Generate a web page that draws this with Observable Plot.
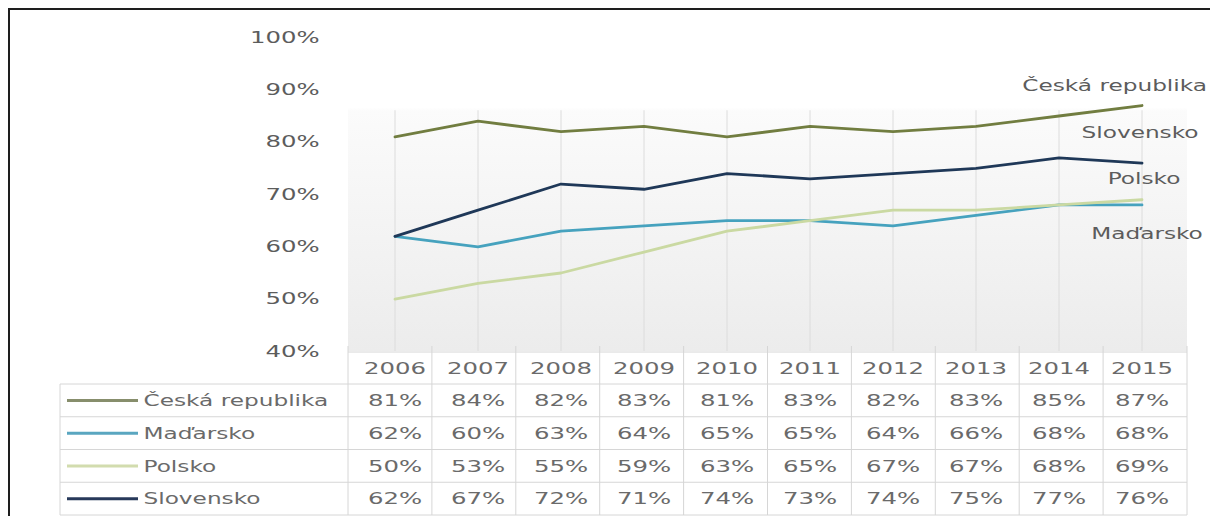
<!DOCTYPE html>
<html>
<head>
<meta charset="utf-8">
<script src="https://cdn.jsdelivr.net/npm/d3@7"></script>
<script src="https://cdn.jsdelivr.net/npm/@observablehq/plot@0.6"></script>
<style>
  body { margin: 0; background: #fff; }
  #wrap { position: relative; width: 1210px; height: 516px; overflow: hidden; background: #fff; }
  #frame { position: absolute; left: 8px; top: 8px; width: 1220px; height: 530px;
           border-top: 2px solid #1e1e1e; border-left: 2px solid #1e1e1e; pointer-events: none; }
</style>
</head>
<body>
<div id="wrap"><div id="frame"></div></div>
<script>
// ---- data ----
const years = [2006, 2007, 2008, 2009, 2010, 2011, 2012, 2013, 2014, 2015];
const seriesNames = ["Česká republika", "Maďarsko", "Polsko", "Slovensko"];
const ceskaValues     = [81, 84, 82, 83, 81, 83, 82, 83, 85, 87];
const madarskoValues  = [62, 60, 63, 64, 65, 65, 64, 66, 68, 68];
const polskoValues    = [50, 53, 55, 59, 63, 65, 67, 67, 68, 69];
const slovenskoValues = [62, 67, 72, 71, 74, 73, 74, 75, 77, 76];
const yTicks = [40, 50, 60, 70, 80, 90, 100];
const seriesColors = ["#717d40", "#46a2be", "#cad9a2", "#1f3858"];
const swatchColors = ["#878e6c", "#5aa6c0", "#d2dcae", "#27395a"];

// ---- derived table ----
const valuesBySeries = [ceskaValues, madarskoValues, polskoValues, slovenskoValues];
const rows = seriesNames.flatMap((s, i) =>
  years.map((yr, j) => ({series: s, year: yr, value: valuesBySeries[i][j]})));
const lastPoints = seriesNames.map((s, i) => ({series: s, year: years[years.length - 1], value: valuesBySeries[i][years.length - 1]}));

// layout constants (style)
const headerH = 32;
const rowH = 32.75;
const tableLeftOffset = 288;   // table starts this far left of the plot frame
const textColor = "#5c5c5c";
const tableTextColor = "#6a6a6a";

function plotBackground(index, scales, values, dims) {
  const left = dims.marginLeft, right = dims.width - dims.marginRight;
  const top = dims.marginTop, bottom = dims.height - dims.marginBottom;
  const g = d3.create("svg:g");
  const grad = g.append("defs").append("linearGradient")
    .attr("id", "bgGrad").attr("x1", 0).attr("x2", 0).attr("y1", 0).attr("y2", 1);
  [[0, "#ffffff"], [0.225, "#ffffff"], [0.235, "#fbfbfb"], [1, "#ececec"]]
    .forEach(([o, c]) => grad.append("stop").attr("offset", o).attr("stop-color", c));
  g.append("rect").attr("x", left).attr("y", top).attr("width", right - left)
    .attr("height", bottom - top).attr("fill", "url(#bgGrad)");
  return g.node();
}

function tableGrid(index, scales, values, dims) {
  const left = dims.marginLeft, right = dims.width - dims.marginRight;
  const top = dims.height - dims.marginBottom + 1;
  const n = years.length, bw = (right - left) / n;
  const hb = top + headerH, bottom = hb + rowH * seriesNames.length;
  const tl = left - tableLeftOffset;
  const g = d3.create("svg:g").attr("fill", "none");
  const grid = g.append("g").attr("stroke", "#d6d6d6").attr("stroke-width", 1);
  grid.append("line").attr("x1", left).attr("x2", right).attr("y1", top).attr("y2", top);
  for (let r = 0; r <= seriesNames.length; r++) {
    const yy = hb + r * rowH;
    grid.append("line").attr("x1", tl).attr("x2", right).attr("y1", yy).attr("y2", yy);
  }
  for (let i = 0; i <= n; i++) {
    const xx = left + i * bw;
    grid.append("line").attr("x1", xx).attr("x2", xx).attr("y1", top - 6).attr("y2", bottom);
  }
  grid.append("line").attr("x1", tl).attr("x2", tl).attr("y1", hb).attr("y2", bottom);
  seriesNames.forEach((s, i) => {
    const yy = hb + rowH * (i + 0.5);
    g.append("line").attr("x1", tl + 7).attr("x2", tl + 78).attr("y1", yy).attr("y2", yy)
      .attr("stroke", swatchColors[i]).attr("stroke-width", 3);
  });
  return g.node();
}

const labelOffsets = {
  "Česká republika": {dx: 65, dy: -20, anchor: "end"},
  "Slovensko": {dx: -2, dy: -30, anchor: "middle"},
  "Polsko": {dx: 2, dy: -21, anchor: "middle"},
  "Maďarsko": {dx: 5, dy: 29, anchor: "middle"}
};

const marks = [
  plotBackground,
  Plot.ruleX(years, {x: d => d, y1: 86, y2: 40, stroke: "#dcdcdc", strokeWidth: 1}),
  tableGrid,
  Plot.line(rows, {x: "year", y: "value", z: "series", stroke: "series", strokeWidth: 2.8, curve: "linear"}),
  // y tick labels
  Plot.text(yTicks, {y: d => d, text: d => d + "%", frameAnchor: "left", lineAnchor: "middle", dx: -29, textAnchor: "end", fill: textColor}),
  // series labels at right
  ...seriesNames.map(s => Plot.text(lastPoints.filter(d => d.series === s), {
    x: "year", y: "value", text: "series", dx: labelOffsets[s].dx, dy: labelOffsets[s].dy,
    lineAnchor: "middle", textAnchor: labelOffsets[s].anchor, fill: textColor
  })),
  // table header (years)
  Plot.text(years, {x: d => d, text: d => String(d), frameAnchor: "bottom", lineAnchor: "middle",
    dy: 1 + headerH / 2, fill: tableTextColor}),
  // table rows
  ...seriesNames.map((s, i) => Plot.text(rows.filter(d => d.series === s), {
    x: "year", text: d => d.value + "%", frameAnchor: "bottom", lineAnchor: "middle",
    dy: 1 + headerH + rowH * (i + 0.5), fill: tableTextColor
  })),
  // table row labels
  ...seriesNames.map((s, i) => Plot.text([s], {
    text: d => d, frameAnchor: "bottom-left", lineAnchor: "middle", dx: -tableLeftOffset + 83,
    dy: 1 + headerH + rowH * (i + 0.5), textAnchor: "start", fill: tableTextColor
  }))
];

const chart = Plot.plot({
  width: 1210,
  height: 516,
  marginLeft: 348,
  marginRight: 23,
  marginTop: 37,
  marginBottom: 165,
  style: {fontFamily: "DejaVu Sans", fontSize: "16px", background: "transparent", color: textColor},
  x: {type: "band", domain: years, padding: 0, axis: null},
  y: {domain: [40, 100], axis: null},
  color: {domain: seriesNames, range: seriesColors},
  marks
});

const wrap = document.getElementById("wrap");
wrap.insertBefore(chart, wrap.firstChild);

// Horizontally stretched lettering, as in the source picture
chart.querySelectorAll("text").forEach(t => {
  const w = t.getComputedTextLength();
  if (!w) return;
  const k = /^[\d%]+$/.test(t.textContent.trim()) ? 1.52 : 1.45;
  t.setAttribute("textLength", (w * k).toFixed(1));
  t.setAttribute("lengthAdjust", "spacingAndGlyphs");
});
</script>
</body>
</html>
